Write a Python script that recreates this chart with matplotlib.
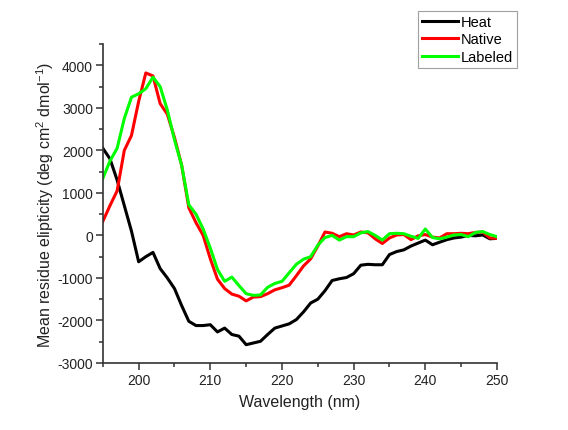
import numpy as np
import matplotlib
matplotlib.use('Agg')
import matplotlib.pyplot as plt
from matplotlib.ticker import MultipleLocator

plt.rcParams['font.family'] = ['Liberation Sans', 'DejaVu Sans']
plt.rcParams['mathtext.fontset'] = 'custom'
plt.rcParams['mathtext.rm'] = 'Liberation Sans'
plt.rcParams['axes.unicode_minus'] = False

wavelength = np.arange(195, 251)

heat = [2050, 1800, 1300, 700, 100, -620, -500, -400, -780, -1000,
        -1250, -1650, -2020, -2120, -2120, -2100, -2270, -2180, -2330, -2370,
        -2570, -2530, -2490, -2330, -2180, -2130, -2080, -1980, -1800, -1590,
        -1500, -1300, -1060, -1020, -990, -900, -700, -680, -690, -690,
        -450, -380, -340, -250, -180, -110, -220, -160, -100, -60,
        -40, 0, -10, 10, -80, -70]

native = [330, 700, 1050, 2000, 2350, 3150, 3820, 3750, 3100, 2850,
          2300, 1650, 650, 300, 0, -550, -1030, -1250, -1380, -1430,
          -1540, -1450, -1440, -1370, -1280, -1230, -1170, -950, -720, -550,
          -250, 80, 50, -30, 40, 10, 80, 60, -80, -190,
          -60, 10, 20, -100, -10, 20, -40, -60, 40, 40,
          50, 40, 70, 80, -60, -70]

labeled = [1340, 1750, 2050, 2750, 3250, 3330, 3450, 3720, 3500, 2950,
           2250, 1650, 720, 500, 150, -300, -800, -1080, -980, -1180,
           -1370, -1410, -1400, -1220, -1130, -1080, -880, -680, -560, -500,
           -230, -50, 0, -110, -30, -30, 60, 90, 0, -110,
           40, 50, 40, -20, -70, 150, -50, -80, -40, 10,
           20, -30, 70, 90, 20, -30]

fig = plt.figure(figsize=(5.68, 4.31), dpi=100)
ax = fig.add_axes([0.181, 0.1555, 0.694, 0.740])

ax.plot(wavelength, heat, color='black', lw=2.2, label='Heat')
ax.plot(wavelength, native, color='#ff0000', lw=2.2, label='Native')
ax.plot(wavelength, labeled, color='#00ff00', lw=2.2, label='Labeled')

ax.set_xlim(195, 250)
ax.set_ylim(-3000, 4500)
ax.xaxis.set_major_locator(MultipleLocator(10))
ax.xaxis.set_minor_locator(MultipleLocator(5))
ax.yaxis.set_minor_locator(MultipleLocator(500))
ax.set_yticks(np.arange(-3000, 4001, 1000))

for s in ['top', 'right']:
    ax.spines[s].set_visible(False)
for s in ['left', 'bottom']:
    ax.spines[s].set_color('#333333')
    ax.spines[s].set_linewidth(1.2)
ax.tick_params(which='major', direction='out', length=5, width=1.1,
               labelsize=10, colors='#333333', labelcolor='#222222', pad=2)
ax.tick_params(which='minor', direction='out', length=3, width=1.1,
               colors='#333333')

ax.set_xlabel('Wavelength (nm)', fontsize=11.5, color='#222222', labelpad=5)
ax.set_ylabel('Mean residue elipticity (deg cm$^{2}$ dmol$^{-1}$)',
              fontsize=11.5, color='#222222', labelpad=1)

leg = fig.legend(loc='upper right', bbox_to_anchor=(0.910, 0.972),
                 fontsize=10.5, frameon=True, fancybox=False,
                 handlelength=2.5, handletextpad=0.2, labelspacing=0.25,
                 borderpad=0.25, borderaxespad=0)
leg.get_frame().set_edgecolor('#888888')
leg.get_frame().set_linewidth(0.8)

fig.savefig('out.png', dpi=100)
